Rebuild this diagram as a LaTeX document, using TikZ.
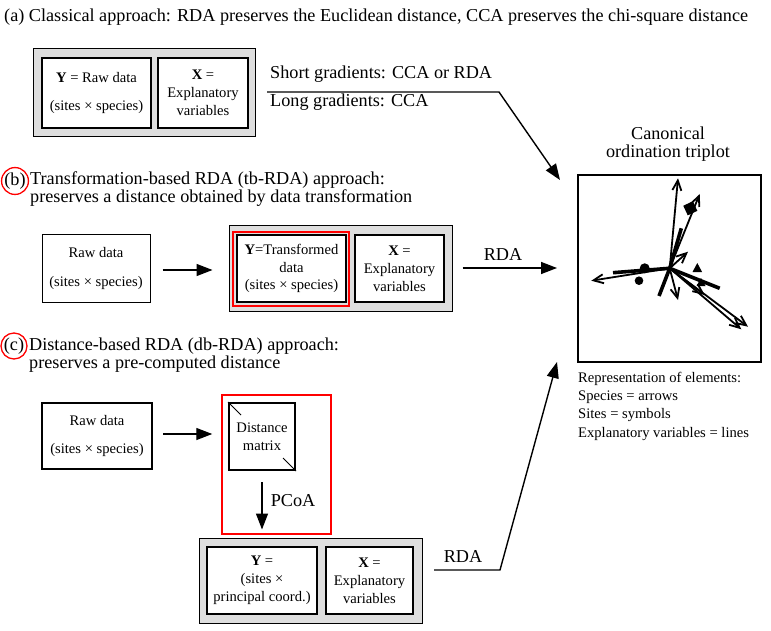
\documentclass[tikz,border=0pt]{standalone}
\usepackage{fontspec}
\setmainfont{Liberation Serif}
\usetikzlibrary{arrows.meta}

\begin{document}
\begin{tikzpicture}[x=1pt,y=-1pt,
    every node/.style={font=\fontsize{14.6}{17.8}\selectfont, align=center, inner sep=0pt},
    head/.style={font=\fontsize{18.2}{18}\selectfont, anchor=base west, align=left},
    panel/.style={draw, fill=black!13, line width=1pt},
    cell/.style={draw, fill=white, line width=2pt},
    plaincell/.style={draw, fill=white, line width=1pt},
    redframe/.style={draw=red, line width=1.5pt},
    link/.style={line width=1.4pt, -{Triangle[length=16pt,width=12pt]}},
    spec/.style={line width=1.8pt, -{Straight Barb[length=10pt,width=9pt]}},
    expl/.style={line width=3.6pt},
    lab/.style={circle, draw=red, line width=1.3pt, minimum size=23pt, font=\fontsize{18.2}{18}\selectfont}]
    \useasboundingbox (0,0) rectangle (771,631);

    % (a) classical approach
    \node (ta) [head] at (4,22) {(a) Classical approach: RDA preserves the Euclidean distance, CCA preserves the chi-square distance};
    \node (pA) [panel, minimum width=222pt, minimum height=88pt] at (144,93) {};
    \node (yA) [cell, minimum width=109pt, minimum height=70pt] at (96.5,93) {\textbf{Y} = Raw data\\[11pt](sites × species)};
    \node (xA) [cell, minimum width=90pt, minimum height=70pt] at (203,93) {\textbf{X} =\\Explanatory\\variables};
    \node (sg) [head] at (270,79) {Short gradients: CCA or RDA};
    \node (lg) [head] at (270,107) {Long gradients: CCA};
    \coordinate (g1) at (267,92);
    \coordinate (g2) at (499,92);

    % (b) tb-RDA
    \node (lb) [lab] at (15,181) {(b)};
    \node (tb1) [head] at (30,185) {Transformation-based RDA (tb-RDA) approach:};
    \node (tb2) [head] at (30,203) {preserves a distance obtained by data transformation};
    \node (rawB) [plaincell, minimum width=108pt, minimum height=67pt] at (96,268.5) {Raw data\\[10.5pt](sites × species)};
    \node (pB) [panel, minimum width=223pt, minimum height=85pt] at (340.5,268.5) {};
    \node (rB) [redframe, minimum width=116pt, minimum height=74pt] at (291,269) {};
    \node (yB) [cell, minimum width=109pt, minimum height=67pt] at (291.5,268.5) {\textbf{Y}=Transformed\\data\\(sites × species)};
    \node (xB) [cell, minimum width=89pt, minimum height=67pt] at (399.5,268.5) {\textbf{X} =\\Explanatory\\variables};
    \node (rdaB) [head, anchor=base] at (503,260) {RDA};

    % (c) db-RDA
    \node (lc) [lab] at (14,346) {(c)};
    \node (tc1) [head] at (29,350) {Distance-based RDA (db-RDA) approach:};
    \node (tc2) [head] at (29,368) {preserves a pre-computed distance};
    \node (rawC) [cell, minimum width=110pt, minimum height=66pt] at (97,436) {Raw data\\[10.5pt](sites × species)};
    \node (rC) [redframe, minimum width=109pt, minimum height=139pt] at (276.5,464.5) {};
    \node (dist) [cell, minimum width=66pt, minimum height=67pt] at (262,436.5) {Distance\\matrix};
    \node (pcoa) [head, anchor=base] at (293,506) {PCoA};
    \node (pC) [panel, minimum width=223pt, minimum height=85pt] at (310.5,580.5) {};
    \node (yC) [cell, minimum width=110pt, minimum height=67pt] at (262,580.5) {\textbf{Y} =\\(sites ×\\principal coord.)};
    \node (xC) [cell, minimum width=87pt, minimum height=67pt] at (369.5,580.5) {\textbf{X} =\\Explanatory\\variables};
    \node (rdaC) [head, anchor=base] at (463,562) {RDA};
    \coordinate (c1) at (434,570);
    \coordinate (c2) at (500,570);

    % triplot
    \node (tt1) [head, anchor=base] at (668,140) {Canonical};
    \node (tt2) [head, anchor=base] at (668,158) {ordination triplot};
    \node (plot) [draw, line width=1.2pt, minimum width=183pt, minimum height=187pt] at (669.5,268.5) {};
    \node (r1) [anchor=base west] at (578,382) {Representation of elements:};
    \node (r2) [anchor=base west] at (578,400) {Species = arrows};
    \node (r3) [anchor=base west] at (578,418) {Sites = symbols};
    \node (r4) [anchor=base west] at (578,437) {Explanatory variables = lines};
    \coordinate (inA) at (560,180);
    \coordinate (inB) at (557,268);
    \coordinate (inC) at (557,362);
    \coordinate (o) at (669.7,268.3);

    % connectors
    \draw[link] (g1) -- (g2) -- (inA);
    \draw[link, shorten <=12pt, shorten >=16pt] (rawB.east |- 0,270) -- (pB.west |- 0,270);
    \draw[link, shorten <=10pt] (pB.east |- inB) -- (inB);
    \draw[link, shorten <=10pt, shorten >=9pt] (rawC.east |- 0,434) -- (rC.west |- 0,434);
    \draw[link, shorten <=11pt, shorten >=8pt] (dist.south) -- (dist.south |- pC.north);
    \draw[link] (c1) -- (c2) -- (inC);
    \draw[line width=1pt] (dist.north west) -- ++(13,13);
    \draw[line width=1pt] (dist.south east) -- ++(-13,-13);

    % explanatory variables
    \draw[expl] (o) -- (613,272.7);
    \draw[expl] (o) -- (659,296);
    \draw[expl] (o) -- (681.3,228.3);
    \draw[expl] (o) -- (719.7,288.3);

    % species
    \draw[spec] (o) -- (678,178.3);
    \draw[spec] (o) -- (699.7,194);
    \draw[spec] (o) -- (688,251.7);
    \draw[spec] (o) -- (591.3,280.7);
    \draw[spec] (o) -- (678,300);
    \draw[spec] (o) -- (748,326.7);
    \draw[spec] (o) -- (741.3,329.3);
    \draw[spec] (o) -- (704.7,295);

    % sites
    \fill (644.7,268.3) circle (5pt);
    \fill (639,280.7) circle (4.3pt);
    \fill[rotate around={25:(690.3,208.3)}] (685,203) rectangle (695.6,213.6);
    \fill (697.3,263) -- (692.5,272) -- (702.1,272) -- cycle;
    \fill (701,278) -- (696.5,286) -- (705.5,286) -- cycle;
\end{tikzpicture}
\end{document}
